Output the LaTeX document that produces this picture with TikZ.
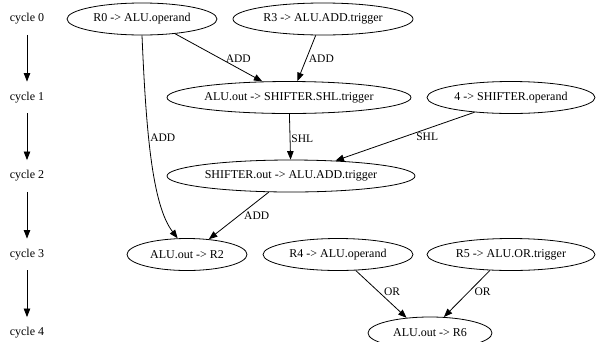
\documentclass[tikz,border=0pt]{standalone}
\usepackage{fontspec}
\setmainfont{Liberation Serif}
\usepackage{tikz}
\usetikzlibrary{shapes.geometric,arrows.meta}

\begin{document}
\begin{tikzpicture}[
    x=1pt, y=-1pt,
    cycle/.style={rectangle, minimum height=31.5pt, inner sep=0pt, font=\fontsize{12}{14}\selectfont},
    move/.style={ellipse, draw=black, line width=0.8pt, minimum height=32pt, inner sep=0pt, font=\fontsize{12}{14}\selectfont},
    flow/.style={line width=0.8pt, -{Triangle[length=8.5pt,width=6.5pt]}},
    lbl/.style={inner sep=0pt, font=\fontsize{11.5}{13}\selectfont}
]
    \useasboundingbox (0,0) rectangle (597,341);

    \node[cycle] (c0) at (27,19) {cycle 0};
    \node[cycle] (c1) at (27,97.5) {cycle 1};
    \node[cycle] (c2) at (27,176) {cycle 2};
    \node[cycle] (c3) at (27,254.5) {cycle 3};
    \node[cycle] (c4) at (27,333) {cycle 4};
    \draw[flow] (c0) -- (c1);
    \draw[flow] (c1) -- (c2);
    \draw[flow] (c2) -- (c3);
    \draw[flow] (c3) -- (c4);

    \node[move, minimum width=150pt] (r0) at (142,19) {R0 -> ALU.operand};
    \node[move, minimum width=180pt] (r3) at (323,19) {R3 -> ALU.ADD.trigger};

    \node[move, minimum width=244pt] (shl) at (289,97.5) {ALU.out -> SHIFTER.SHL.trigger};
    \node[move, minimum width=168pt] (four) at (511,97.5) {4 -> SHIFTER.operand};

    \node[move, minimum width=248pt] (sho) at (291,176) {SHIFTER.out -> ALU.ADD.trigger};

    \node[move, minimum width=120pt] (r2) at (187,254.5) {ALU.out -> R2};
    \node[move, minimum width=150pt] (r4) at (338,254.5) {R4 -> ALU.operand};
    \node[move, minimum width=168pt] (r5) at (511,254.5) {R5 -> ALU.OR.trigger};

    \node[move, minimum width=124pt] (r6) at (430,333) {ALU.out -> R6};

    \draw[flow] (r0.-24) -- node[lbl, pos=0.52, anchor=west, xshift=5pt] {ADD} (shl.149);
    \draw[flow] (r3.-114) -- node[lbl, pos=0.5, anchor=west, xshift=2pt] {ADD} (shl.63);
    \draw[flow] (r0.south) .. controls (146,130) and (152,205) .. node[lbl, pos=0.4, anchor=west, xshift=1pt] {ADD} (r2.120);
    \draw[flow] (shl) -- node[lbl, pos=0.55, anchor=west, xshift=1pt] {SHL} (sho);
    \draw[flow] (four.-158) -- node[lbl, pos=0.5, anchor=west, xshift=11pt] {SHL} (sho.19);
    \draw[flow] (sho.-144) -- node[lbl, pos=0.5, anchor=west, xshift=5pt] {ADD} (r2.35);
    \draw[flow] (r4.-42) -- node[lbl, pos=0.45, anchor=west, xshift=5pt] {OR} (r6.147);
    \draw[flow] (r5.-143) -- node[lbl, pos=0.45, anchor=west, xshift=5pt] {OR} (r6.49);
\end{tikzpicture}
\end{document}
